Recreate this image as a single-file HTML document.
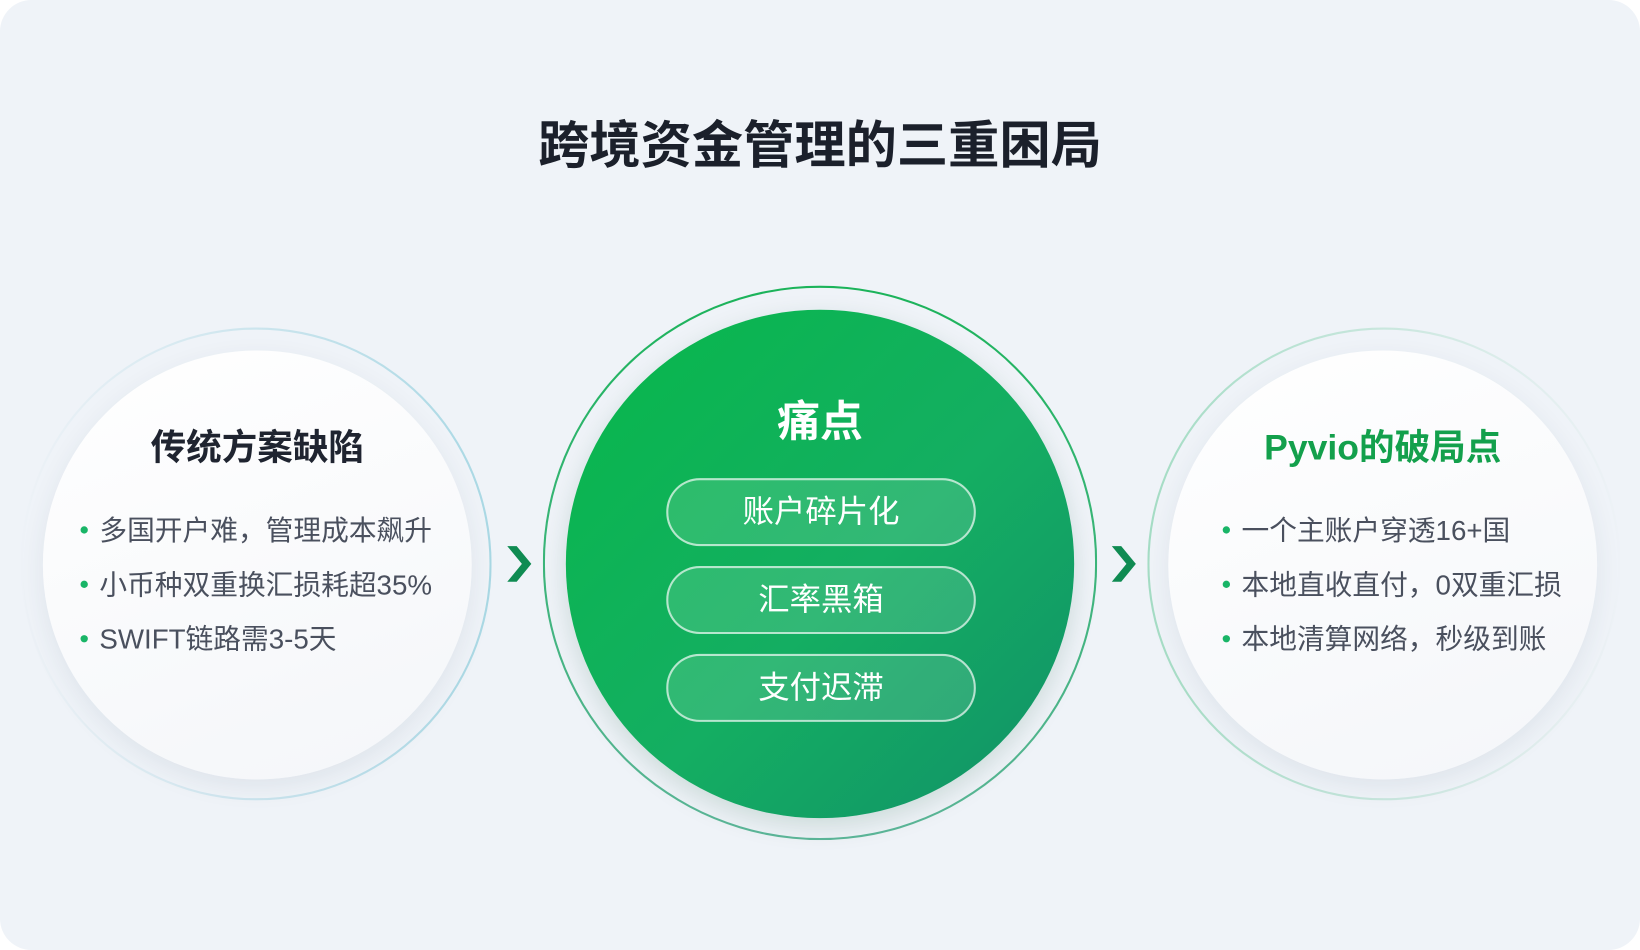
<!DOCTYPE html>
<html><head><meta charset="utf-8"><style>
html,body{margin:0;padding:0;width:1640px;height:950px;overflow:hidden;background:#fff;}
#w{position:absolute;left:0;top:0;width:1568px;height:908px;transform:scale(1.04592,1.04626);transform-origin:0 0;font-family:"Liberation Sans","Noto Sans CJK SC",sans-serif;}
.card{position:absolute;left:0;top:0;width:1568px;height:908px;border-radius:30px;background:#eff3f8;}
.t{position:absolute;white-space:nowrap;}
.circ{position:absolute;border-radius:50%;}
.pill{position:absolute;left:637px;width:292px;height:61px;border:2px solid rgba(255,255,255,.65);border-radius:32px;background:rgba(255,255,255,.13);color:#fff;font-size:30px;text-align:center;line-height:61px;}
.dot{position:absolute;width:7px;height:7px;border-radius:50%;background:#19b567;}
.b{position:absolute;font-size:26.5px;color:#4a505e;white-space:nowrap;}
</style></head><body><div id="w">
<div class="card"></div>
<div class="t" style="left:0;width:1568px;text-align:center;top:100px;font-size:49px;font-weight:bold;color:#1b202b">跨境资金管理的三重困局</div>

<div class="circ" style="left:20px;top:313px;width:450px;height:452px;border:2px solid transparent;background:linear-gradient(#eff3f8,#eff3f8) padding-box,linear-gradient(90deg,#eef2f7,#a9d8e4) border-box;box-sizing:border-box"></div>
<div class="circ" style="left:41px;top:335px;width:410px;height:410px;background:linear-gradient(160deg,#ffffff,#f4f6f9);box-shadow:0 8px 24px rgba(40,60,90,.08)"></div>
<div class="t" style="left:41px;width:410px;text-align:center;top:400px;font-size:34px;font-weight:bold;color:#1f2430">传统方案缺陷</div>
<div class="dot" style="left:77px;top:503px"></div><div class="b" style="left:95px;top:485px">多国开户难，管理成本飙升</div>
<div class="dot" style="left:77px;top:555px"></div><div class="b" style="left:95px;top:537px">小币种双重换汇损耗超35%</div>
<div class="dot" style="left:77px;top:607px"></div><div class="b" style="left:95px;top:589px">SWIFT链路需3-5天</div>

<div class="circ" style="left:519px;top:273px;width:530px;height:530px;border:2px solid transparent;background:linear-gradient(#eff3f8,#eff3f8) padding-box,linear-gradient(180deg,#1bb35a,#5db79a) border-box;box-sizing:border-box"></div>
<div class="circ" style="left:541px;top:296px;width:486px;height:486px;background:linear-gradient(135deg,#07b84a 0%,#14ae62 55%,#119068 100%);box-shadow:0 8px 24px rgba(10,80,50,.15)"></div>
<div class="t" style="left:541px;width:486px;text-align:center;top:369px;font-size:41px;font-weight:bold;color:#fff">痛点</div>
<div class="pill" style="top:457px">账户碎片化</div>
<div class="pill" style="top:541px">汇率黑箱</div>
<div class="pill" style="top:625px">支付迟滞</div>

<svg style="position:absolute;left:480px;top:518px" width="32" height="42"><path d="M5 4 L14 4 L28 21 L14 38 L5 38 L19 21 Z" fill="#0f8b52"/></svg>
<svg style="position:absolute;left:1058px;top:518px" width="32" height="42"><path d="M5 4 L14 4 L28 21 L14 38 L5 38 L19 21 Z" fill="#0f8b52"/></svg>

<div class="circ" style="left:1097px;top:313px;width:452px;height:452px;border:2px solid transparent;background:linear-gradient(#eff3f8,#eff3f8) padding-box,linear-gradient(90deg,#a4dcc4,#eef2f7) border-box;box-sizing:border-box"></div>
<div class="circ" style="left:1117px;top:335px;width:410px;height:410px;background:linear-gradient(160deg,#ffffff,#f4f6f9);box-shadow:0 8px 24px rgba(40,60,90,.08)"></div>
<div class="t" style="left:1117px;width:410px;text-align:center;top:400px;font-size:34px;font-weight:bold;color:#13a04c">Pyvio的破局点</div>
<div class="dot" style="left:1169px;top:503px"></div><div class="b" style="left:1187px;top:485px">一个主账户穿透16+国</div>
<div class="dot" style="left:1169px;top:555px"></div><div class="b" style="left:1187px;top:537px">本地直收直付，0双重汇损</div>
<div class="dot" style="left:1169px;top:607px"></div><div class="b" style="left:1187px;top:589px">本地清算网络，秒级到账</div>
</div></body></html>
